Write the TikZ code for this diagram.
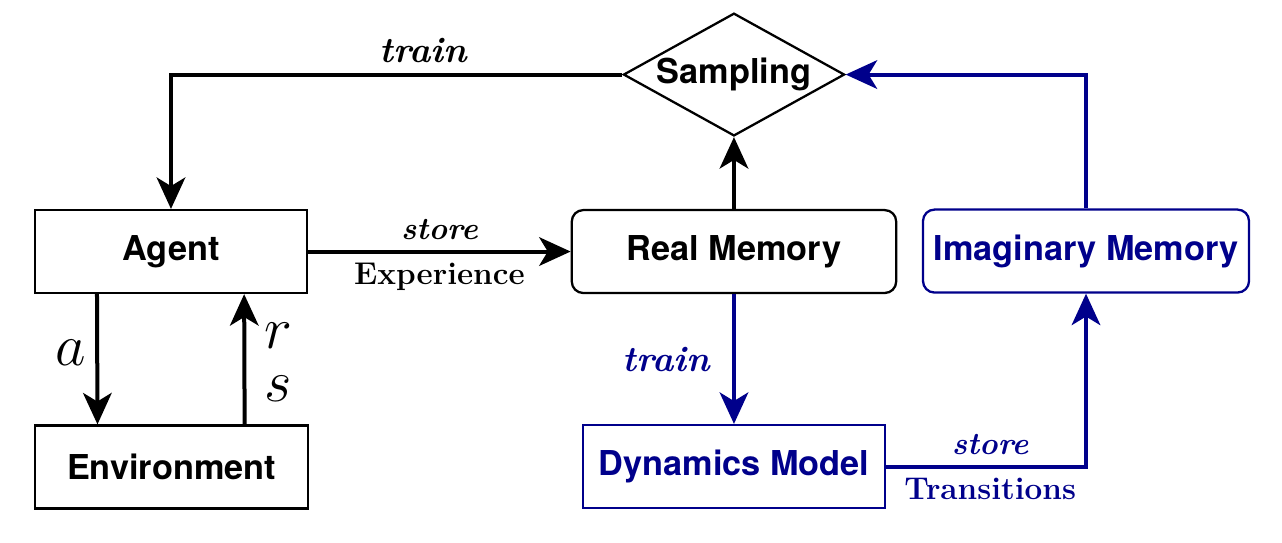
\documentclass[tikz,border=0pt]{standalone}
\usepackage{fontspec}
\setsansfont{TeX Gyre Heros}
\usetikzlibrary{positioning}
\usetikzlibrary{shapes.geometric}
\usetikzlibrary{arrows.meta}
\definecolor{navy}{RGB}{0,0,139}

\begin{document}
\begin{tikzpicture}[
  box/.style={draw, line width=0.8pt, minimum height=1.02cm, inner sep=0pt,
    font=\sffamily\bfseries\fontsize{12}{14}\selectfont},
  mem/.style={box, rounded corners=4pt},
  flow/.style={line width=1.4pt, -{Stealth[length=11pt, width=10pt, inset=3pt]}},
  lbl/.style={font=\bfseries\fontsize{11}{13}\selectfont},
  big lbl/.style={font=\bfseries\fontsize{12.6}{15}\selectfont},
  act/.style={font=\fontsize{20}{24}\selectfont}
]
\useasboundingbox (0,0) rectangle (15.769,6.667);

\node[box, minimum width=3.35cm] (agent) at (2.103,3.573) {Agent};
\node[box, minimum width=3.36cm] (env) at (2.109,0.923) {Environment};
\node[mem, minimum width=3.99cm] (real) at (9.028,3.573) {Real Memory};
\node[mem, navy, minimum width=4.01cm] (imag) at (13.358,3.579) {Imaginary Memory};
\node[box, navy, minimum width=3.72cm] (dyn) at (9.028,0.929) {Dynamics Model};
\node[box, shape=diamond, aspect=1.8, minimum width=2.72cm, minimum height=1.51cm] (samp) at (9.028,5.750) {Sampling};

\draw[flow] (samp.west) -| node[pos=0.22, above, big lbl] {\textit{train}} (agent.north);
\draw[flow] (agent) -- node[above, lbl] {\textit{store}} node[below, lbl] {Experience} (real);
\draw[flow] (real) -- (samp);

\draw[flow] ([xshift=-0.91cm]agent.south) -- node[pos=0.45, left, act] {$a$} ([xshift=-0.91cm]env.north);
\draw[flow] ([xshift=0.9cm]env.north) -- node[pos=0.68, right, act, xshift=3pt] {$r$} node[pos=0.27, right, act, xshift=3pt] {$s$} ([xshift=0.9cm]agent.south);

\draw[flow, navy] (real) -- node[left, big lbl, xshift=-4pt] {\textit{train}} (dyn);
\draw[flow, navy] (dyn) -| node[pos=0.26, above, lbl] {\textit{store}} node[pos=0.26, below, lbl] {Transitions} (imag);
\draw[flow, navy] (imag) |- (samp);
\end{tikzpicture}
\end{document}
